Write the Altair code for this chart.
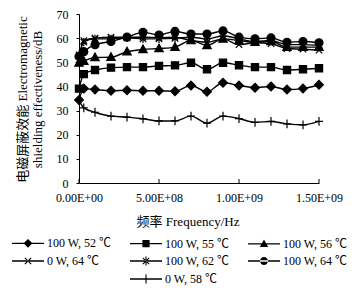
import altair as alt
import pandas as pd

# ---- data ----
freq = [0, 3e7, 1e8, 2e8, 3e8, 4e8, 5e8, 6e8, 7e8, 8e8, 9e8,
        1.0e9, 1.1e9, 1.2e9, 1.3e9, 1.4e9, 1.5e9]

series_names = ["100 W, 52 ℃", "100 W, 55 ℃", "100 W, 56 ℃",
                "0 W, 64 ℃", "100 W, 62 ℃", "100 W, 64 ℃", "0 W, 58 ℃"]

se_100w_52 = [34.4, 39.1, 38.7, 38.2, 38.4, 38.2, 38.2, 38.0, 40.4, 37.8, 41.5, 40.4, 39.5, 40.0, 38.7, 39.1, 40.7]
se_100w_55 = [39.1, 45.1, 46.8, 47.8, 48.0, 48.0, 48.5, 48.7, 49.8, 47.1, 49.8, 48.8, 48.0, 48.0, 46.8, 47.1, 47.5]
se_100w_56 = [49.7, 50.5, 52.0, 52.1, 54.4, 55.3, 55.7, 56.3, 59.0, 57.0, 59.7, 59.0, 58.3, 58.6, 56.3, 56.3, 56.3]
se_0w_64 = [51.0, 59.0, 60.0, 60.4, 60.4, 60.4, 60.2, 60.4, 59.0, 58.3, 59.7, 57.3, 58.1, 57.7, 55.7, 55.4, 55.0]
se_100w_62 = [53.1, 58.4, 59.7, 59.7, 60.1, 59.7, 59.7, 59.9, 60.4, 59.7, 61.0, 59.7, 58.6, 59.0, 57.3, 57.3, 57.0]
se_100w_64 = [52.4, 54.4, 57.3, 58.6, 60.4, 62.4, 61.3, 62.8, 61.7, 61.7, 63.0, 60.4, 59.7, 60.1, 58.3, 58.6, 58.1]
se_0w_58 = [34.2, 31.1, 29.3, 27.7, 27.3, 26.6, 25.7, 25.7, 27.7, 24.8, 27.7, 26.7, 25.1, 25.5, 24.5, 24.1, 25.5]

x_ticks = [0, 5e8, 1e9, 1.5e9]
x_tick_labels = ["0.00E+00", "5.00E+08", "1.00E+09", "1.50E+09"]
y_max = 70
y_tick_count = 8

all_series = [se_100w_52, se_100w_55, se_100w_56, se_0w_64, se_100w_62, se_100w_64, se_0w_58]

rows = []
for name, vals in zip(series_names, all_series):
    for f, v in zip(freq, vals):
        rows.append({"freq": f, "se": v, "series": name})
df = pd.DataFrame(rows)

# ---- marker shapes (unit coordinates, 1 unit = 4 px at size 64) ----
diamond = "M0,-1.1L1.1,0L0,1.1L-1.1,0Z"
square = "M-0.9,-0.9H0.9V0.9H-0.9Z"
triangle = "M0,-1.1L1.05,0.8H-1.05Z"
xmark = "M-0.8,-0.8L0.8,0.8M-0.8,0.8L0.8,-0.8"
star = "M-0.8,-0.8L0.8,0.8M-0.8,0.8L0.8,-0.8M0,-1.05V1.05"
circle = "M-1,0A1,1 0 1,0 1,0A1,1 0 1,0 -1,0Z"
plus = "M-1,0H1M0,-1.1V1.1"
marker_paths = [diamond, square, triangle, xmark, star, circle, plus]

# legend glyphs built only from filled areas (line segment + marker)
seg = "M-4,-0.16H4V0.16H-4Z"
xmark_f = "M-0.9,-0.7L0.7,0.9L0.9,0.7L-0.7,-0.9ZM-0.9,0.7L0.7,-0.9L0.9,-0.7L-0.7,0.9Z"
vbar_f = "M-0.14,-1.1H0.14V1.1H-0.14Z"
legend_marker = [diamond, square, triangle, xmark_f, xmark_f + vbar_f, circle, vbar_f]
legend_paths = [seg + p for p in legend_marker]

# legend: 3 columns, last item centred in the third row
blank1, blank2 = " ", "  "
legend_domain = series_names[:6] + [blank1, series_names[6], blank2]
legend_range = legend_paths[:6] + ["M0,0Z", legend_paths[6], "M0,0Z"]

FONT = "Liberation Serif, Times New Roman, Noto Sans CJK SC, serif"
W, H = 240, 169

label_expr = ""
for t, lab in zip(x_ticks, x_tick_labels):
    label_expr += f"datum.value == {t:.0f} ? '{lab}' : "
label_expr += "''"

x_enc = alt.X(
    "freq:Q",
    scale=alt.Scale(domain=[0, 1.5e9], nice=False),
    axis=alt.Axis(
        values=x_ticks, labelExpr=label_expr, ticks=False, grid=False,
        domainColor="black", domainWidth=1, labelPadding=9,
        labelFont=FONT, labelFontSize=12, labelColor="black",
        labelFlush=False, labelOverlap=False,
        title="频率 Frequency/Hz", titleFont=FONT, titleFontSize=13,
        titleFontWeight="normal", titleColor="black",
        titleX=108.5, titleY=38.5, titleBaseline="middle", titleAnchor="middle"
    ),
)
y_enc = alt.Y(
    "se:Q",
    scale=alt.Scale(domain=[0, y_max], nice=False),
    axis=alt.Axis(
        tickCount=y_tick_count, tickSize=3, tickColor="black", grid=False,
        domainColor="black", domainWidth=1, labelPadding=8,
        labelFont=FONT, labelFontSize=12, labelColor="black",
        labelFlush=False, labelOverlap=False,
        title=["电磁屏蔽效能 Electromagnetic", "shielding effectiveness/dB"],
        titleFont=FONT, titleFontSize=13, titleFontWeight="normal",
        titleColor="black", titleLineHeight=15, titleAngle=270,
        titleX=-57, titleY=85, titleBaseline="middle", titleAlign="center"
    ),
)

base = alt.Chart(df)

lines = base.mark_line(color="black", strokeWidth=1.4, interpolate="monotone").encode(
    x=x_enc, y=y_enc, detail="series:N"
)

points = base.mark_point(filled=True, color="black", stroke="black", strokeWidth=1.2,
                         size=64, opacity=1).encode(
    x="freq:Q", y="se:Q",
    shape=alt.Shape("series:N", scale=alt.Scale(domain=series_names, range=marker_paths),
                    legend=None),
)

legend_layer = base.transform_filter("false").mark_point(
    filled=True, color="black", size=64, opacity=1
).encode(
    x="freq:Q", y="se:Q",
    shape=alt.Shape(
        "series:N",
        scale=alt.Scale(domain=legend_domain, range=legend_range),
        legend=alt.Legend(
            title=None, orient="none", direction="horizontal",
            legendX=-69, legendY=223, columns=3,
            columnPadding=15, rowPadding=2, labelOffset=13, symbolOffset=12,
            labelFont=FONT, labelFontSize=12, labelColor="black", labelLimit=0,
            symbolSize=64, symbolFillColor="black", symbolOpacity=1, padding=0,
        ),
    ),
)

tick_df = pd.DataFrame({"t": x_ticks})
inner_ticks = alt.Chart(tick_df).mark_rule(color="black", strokeWidth=1).encode(
    x="t:Q", y=alt.value(H), y2=alt.value(H - 4)
)

chart = alt.layer(lines, points, legend_layer, inner_ticks).resolve_scale(
    shape="independent"
).properties(
    width=W, height=H,
    padding={"left": 71, "top": 6, "right": 30, "bottom": 110},
    autosize=alt.AutoSizeParams(type="none"),
).configure_view(stroke="transparent")

chart.save("out.html", embed_options={"renderer": "svg", "actions": False})
